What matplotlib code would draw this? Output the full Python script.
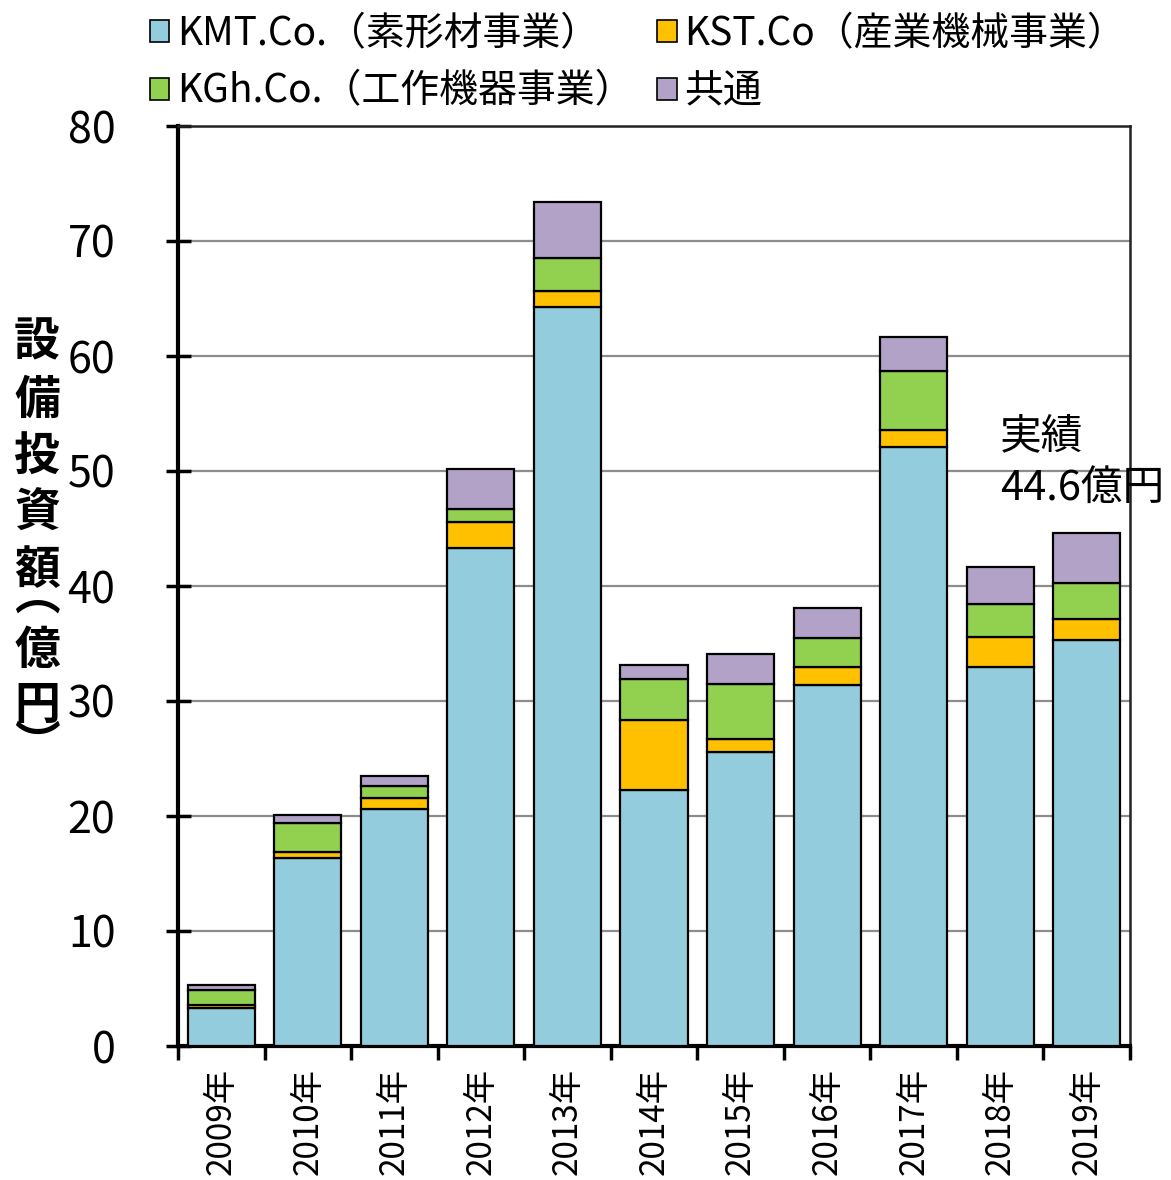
import matplotlib
matplotlib.use('Agg')
import matplotlib.pyplot as plt
from matplotlib.patches import Patch
import numpy as np

# ---- data ----
years = ['2009年', '2010年', '2011年', '2012年', '2013年', '2014年',
         '2015年', '2016年', '2017年', '2018年', '2019年']
kmt = [3.3, 16.35, 20.6, 43.3, 64.3, 22.3, 25.6, 31.4, 52.1, 33.0, 35.3]
kst = [0.3, 0.55, 1.0, 2.3, 1.35, 6.05, 1.1, 1.6, 1.5, 2.6, 1.8]
kgh = [1.3, 2.5, 1.0, 1.1, 2.85, 3.55, 4.8, 2.5, 5.1, 2.8, 3.2]
common = [0.43, 0.7, 0.9, 3.5, 4.9, 1.2, 2.6, 2.6, 2.95, 3.25, 4.3]
series_names = ['KMT.Co.（素形材事業）', 'KST.Co（産業機械事業）',
                'KGh.Co.（工作機器事業）', '共通']
colors = ['#93CDDD', '#FFC000', '#92D050', '#B2A2C7']
yticks = [0, 10, 20, 30, 40, 50, 60, 70, 80]
ylabel_chars = ['設', '備', '投', '資', '額', '︵', '億', '円', '︶']
note_lines = ['実績', '44.6億円']

JP = ['Noto Sans CJK JP', 'DejaVu Sans']
plt.rcParams['font.family'] = JP

W, H = 1171, 1180
fig = plt.figure(figsize=(W / 100, H / 100), dpi=100)
ax = fig.add_axes([178 / W, 1 - 1046 / H, (1130 - 178) / W, (1046 - 126) / H])

x = np.arange(len(years))
bottom = np.zeros(len(years))
handles = []
for vals, name, col in zip([kmt, kst, kgh, common], series_names, colors):
    ax.bar(x, vals, width=0.775, bottom=bottom, color=col,
           edgecolor='black', linewidth=1.6, zorder=3)
    bottom += np.array(vals)
    handles.append(Patch(facecolor=col, edgecolor='black', linewidth=1.2, label=name))

ax.set_xlim(-0.5, len(years) - 0.5)
ax.set_ylim(0, 80)
ax.set_yticks(yticks)
ax.tick_params(axis='y', direction='inout', length=18, width=2.5, pad=36,
               labelsize=31)
ax.set_xticks(np.arange(len(years) + 1) - 0.5)
ax.set_xticklabels([])
ax.set_xticks(x, minor=True)
ax.set_xticklabels(years, minor=True, rotation=90, fontsize=24)
ax.tick_params(axis='x', which='major', direction='out', length=10, width=2.5)
ax.tick_params(axis='x', which='minor', length=0, pad=16)

ax.yaxis.grid(True, color='#8c8c8c', linewidth=1.6, zorder=0)
ax.set_axisbelow(True)
for s in ['left', 'bottom']:
    ax.spines[s].set_linewidth(3)
    ax.spines[s].set_color('black')
for s in ['top', 'right']:
    ax.spines[s].set_linewidth(1.8)
    ax.spines[s].set_color('#222222')

# y label as stacked characters (vertical-form parentheses)
ypos = [342, 401, 458, 514, 571, 597, 651, 706, 746]
for ch, yp in zip(ylabel_chars, ypos):
    fig.text(37 / W, 1 - yp / H, ch, fontsize=33, fontweight='bold',
             ha='center', va='center')

# annotation
fig.text(1000 / W, 1 - 438 / H, note_lines[0], fontsize=30, ha='left', va='center')
fig.text(1000 / W, 1 - 488 / H, note_lines[1], fontsize=30, ha='left', va='center')

order = [0, 2, 1, 3]
fig.legend([handles[i] for i in order], [series_names[i] for i in order],
           ncol=2, loc='upper left', bbox_to_anchor=(150 / W, 1 - 14 / H),
           frameon=False, fontsize=28, borderpad=0, borderaxespad=0,
           handlelength=0.5, handleheight=0.5, handletextpad=0.2,
           columnspacing=0.6, labelspacing=0.45)

fig.savefig('out.png', dpi=100)
